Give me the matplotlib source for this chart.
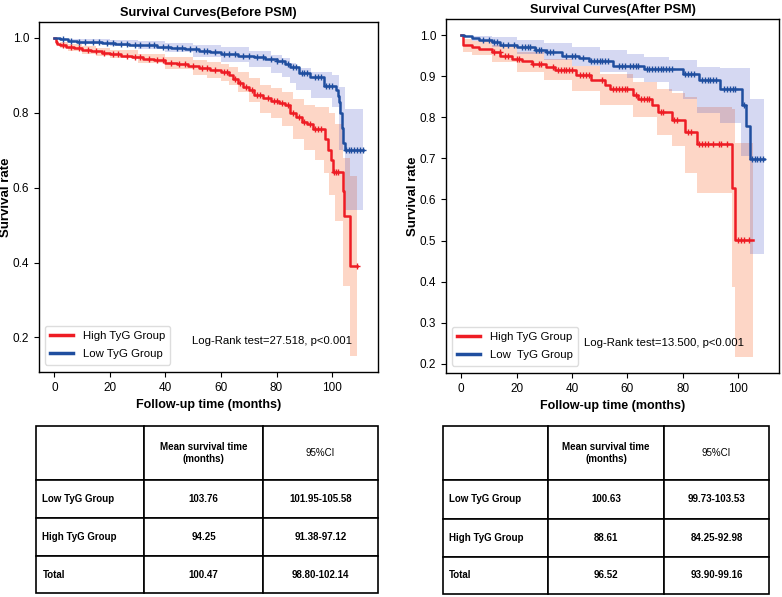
import numpy as np
import matplotlib
matplotlib.use("Agg")
import matplotlib.pyplot as plt

plt.rcParams['font.family'] = ['Liberation Sans', 'DejaVu Sans']

# ---------------- data: Before PSM ----------------
b_high_t = [0, 0.5, 1, 2, 4, 7, 10, 13, 17, 20, 24, 28, 32, 36, 40, 44, 48, 52, 56, 60, 63, 64.5, 66, 68, 70,
            72, 75, 78, 81, 83, 85, 87, 89, 91, 93, 97.5, 98.5, 99.5, 100.4, 103.8, 104.3, 106.4, 108.9]
b_high_s = [1.0, 0.99, 0.985, 0.98, 0.976, 0.972, 0.968, 0.964, 0.96, 0.956, 0.952, 0.948, 0.944, 0.94, 0.934,
            0.93, 0.925, 0.92, 0.914, 0.908, 0.902, 0.89, 0.88, 0.87, 0.86, 0.848, 0.84, 0.832, 0.826, 0.82, 0.80,
            0.79, 0.775, 0.77, 0.757, 0.73, 0.70, 0.674, 0.643, 0.59, 0.525, 0.392, 0.392]
b_high_ci_t = [0, 2, 5, 10, 15, 20, 30, 40, 50, 55, 60, 63, 66, 70, 74, 78, 82, 86, 90, 94, 97, 99, 101,
               103.8, 106.4, 108.9]
b_high_lo = [1.0, 0.972, 0.966, 0.958, 0.951, 0.945, 0.932, 0.918, 0.900, 0.893, 0.885, 0.875, 0.855, 0.83,
             0.80, 0.785, 0.765, 0.73, 0.70, 0.675, 0.64, 0.58, 0.51, 0.337, 0.15, 0.15]
b_high_up = [1.0, 0.988, 0.985, 0.978, 0.972, 0.967, 0.958, 0.948, 0.94, 0.935, 0.93, 0.921, 0.91, 0.893,
             0.875, 0.865, 0.855, 0.838, 0.82, 0.815, 0.815, 0.80, 0.77, 0.68, 0.63, 0.63]
b_high_cens = [3, 6, 9, 12, 15, 18, 21, 23, 26, 29, 31, 34, 37, 39, 42, 45, 47, 50, 53, 55, 58, 61, 62, 65,
               67, 69, 71, 73, 74, 77, 79, 80, 82, 84, 86, 88, 90, 92, 94, 95, 96, 100.8, 101.5, 102.3, 108.9]

b_low_t = [0, 2, 5, 8, 12, 17, 22, 27, 32, 37, 42, 47, 52, 56, 60, 66, 72, 76, 80, 83, 85, 88, 92, 97,
           101.5, 102, 102.5, 103, 103.5, 104, 104.5, 111]
b_low_s = [1.0, 0.996, 0.993, 0.990, 0.988, 0.986, 0.984, 0.982, 0.980, 0.977, 0.974, 0.970, 0.966, 0.962,
           0.957, 0.953, 0.949, 0.944, 0.938, 0.930, 0.921, 0.905, 0.895, 0.872, 0.86, 0.845, 0.83, 0.80,
           0.76, 0.72, 0.70, 0.70]
b_low_ci_t = [0, 5, 10, 20, 30, 40, 50, 60, 70, 78, 82, 85, 87, 92.5, 100, 102.5, 104.5, 111]
b_low_lo = [1.0, 0.990, 0.985, 0.978, 0.971, 0.962, 0.948, 0.935, 0.922, 0.905, 0.895, 0.88, 0.862, 0.84,
            0.815, 0.70, 0.54, 0.54]
b_low_up = [1.0, 0.998, 0.996, 0.994, 0.991, 0.987, 0.982, 0.975, 0.965, 0.955, 0.945, 0.934, 0.92, 0.91,
            0.90, 0.87, 0.81, 0.81]
b_low_cens = [3, 6, 9, 11, 14, 16, 19, 21, 24, 26, 29, 31, 34, 36, 39, 41, 44, 46, 49, 51, 54, 55, 58, 61,
              63, 65, 68, 70, 73, 75, 78, 80, 82, 84, 86, 87, 89, 90, 91, 94, 95, 96, 98, 99, 100,
              105, 106, 107, 108, 109, 110, 111]

# ---------------- data: After PSM ----------------
a_high_t = [0, 0.6, 4, 6.4, 11.2, 14.2, 18.4, 22, 25.7, 30.5, 34, 41.3, 47, 52, 53.8, 62, 64, 68.8, 71.2,
            76, 81, 85, 97.7, 98.9, 105.4]
a_high_s = [1.0, 0.976, 0.97, 0.967, 0.958, 0.95, 0.942, 0.938, 0.93, 0.922, 0.914, 0.902, 0.89, 0.878,
            0.869, 0.854, 0.845, 0.829, 0.812, 0.793, 0.764, 0.735, 0.629, 0.502, 0.502]
a_high_ci_t = [0, 0.6, 4, 11, 20, 30, 40, 50, 62, 70.8, 76, 81, 85, 97.7, 98.9, 105.4]
a_high_lo = [1.0, 0.96, 0.952, 0.935, 0.91, 0.89, 0.865, 0.83, 0.80, 0.756, 0.73, 0.664, 0.615, 0.388,
             0.217, 0.217]
a_high_up = [1.0, 0.99, 0.985, 0.975, 0.96, 0.942, 0.925, 0.905, 0.885, 0.869, 0.86, 0.85, 0.824, 0.82,
             0.737, 0.737]
a_high_cens = [12, 14, 16, 17, 20, 21, 26, 28, 29, 33, 35, 36, 37, 38, 39, 40, 43, 44, 45, 46, 51, 55, 56,
               57, 58, 59, 60, 63, 65, 66, 67, 68, 72, 73, 77, 78, 82, 83, 86, 87, 88, 89, 91, 93, 94, 96,
               100, 101, 102, 104]

a_low_t = [0, 1, 4, 6.4, 11, 14, 20, 26.5, 30.5, 36.3, 42.5, 46, 55, 66, 80, 86, 93.6, 101.3, 103, 104.2,
           109.3]
a_low_s = [1.0, 0.998, 0.993, 0.989, 0.983, 0.975, 0.971, 0.964, 0.958, 0.95, 0.944, 0.938, 0.926, 0.917,
           0.906, 0.891, 0.869, 0.83, 0.78, 0.698, 0.698]
a_low_ci_t = [0, 4, 11, 20, 30, 40, 50, 60, 66, 75, 80, 85, 93.6, 101, 104.2, 109.3]
a_low_lo = [1.0, 0.985, 0.97, 0.955, 0.94, 0.925, 0.91, 0.895, 0.885, 0.865, 0.845, 0.81, 0.787, 0.705,
            0.467, 0.467]
a_low_up = [1.0, 0.999, 0.995, 0.988, 0.981, 0.972, 0.963, 0.955, 0.946, 0.94, 0.939, 0.922, 0.92, 0.92,
            0.845, 0.845]
a_low_cens = [8, 10, 12, 13, 15, 17, 19, 22, 23, 24, 25, 27, 28, 29, 31, 32, 33, 38, 40, 41, 44, 47, 48,
              49, 50, 51, 52, 53, 57, 58, 59, 61, 62, 63, 64, 67, 68, 69, 70, 71, 72, 73, 74, 75, 76, 81,
              82, 83, 84, 87, 88, 89, 90, 91, 92, 95, 96, 97, 98, 99, 102, 105, 106, 107, 108, 109]

titles = ["Survival Curves(Before PSM)", "Survival Curves(After PSM)"]
logrank = ["Log-Rank test=27.518, p<0.001", "Log-Rank test=13.500, p<0.001"]
legend_labels = [["High TyG Group", "Low TyG Group"], ["High TyG Group", "Low  TyG Group"]]

# ---------------- table data ----------------
col_header = ["", "Mean survival time\n(months)", "95%CI"]
row_labels = ["Low TyG Group", "High TyG Group", "Total"]
before_mean = ["103.76", "94.25", "100.47"]
before_ci = ["101.95-105.58", "91.38-97.12", "98.80-102.14"]
after_mean = ["100.63", "88.61", "96.52"]
after_ci = ["99.73-103.53", "84.25-92.98", "93.90-99.16"]

RED = "#ee1c24"
BLUE = "#1f4e9f"

fig = plt.figure(figsize=(7.82, 5.97), dpi=100)
W, H = 782, 597


def px_axes(x0, y0, x1, y1):
    return fig.add_axes([x0 / W, 1 - y1 / H, (x1 - x0) / W, (y1 - y0) / H])


def step_val(t, s, c):
    t = np.asarray(t); s = np.asarray(s)
    idx = np.searchsorted(t, c, side='right') - 1
    return s[np.clip(idx, 0, len(s) - 1)]


def km(ax, t, s, ci_t, lo, up, cens, color, fill, alpha, label):
    ax.fill_between(ci_t, lo, up, step='post', color=fill, alpha=alpha, lw=0)
    ax.plot(t, s, drawstyle='steps-post', color=color, lw=1.8, label=label)
    c = np.asarray(cens, dtype=float)
    ax.plot(c, step_val(t, s, c), ls='none', marker='+', ms=5, mew=1.0, color=color)


axes = [px_axes(39, 22, 378, 372), px_axes(446, 19, 779, 373)]
datasets = [
    (b_high_t, b_high_s, b_high_ci_t, b_high_lo, b_high_up, b_high_cens,
     b_low_t, b_low_s, b_low_ci_t, b_low_lo, b_low_up, b_low_cens),
    (a_high_t, a_high_s, a_high_ci_t, a_high_lo, a_high_up, a_high_cens,
     a_low_t, a_low_s, a_low_ci_t, a_low_lo, a_low_up, a_low_cens),
]
text_pos = [(49.5, 0.191), (44.4, 0.251)]

for i, ax in enumerate(axes):
    d = datasets[i]
    km(ax, *d[0:6], RED, "#fa8050", 0.32, legend_labels[i][0])
    km(ax, *d[6:12], BLUE, "#3040c0", 0.2, legend_labels[i][1])
    ax.set_title(titles[i], fontsize=9.2, fontweight='bold', pad=4)
    ax.set_xlabel("Follow-up time (months)", fontsize=9.0, fontweight='bold', labelpad=4)
    ax.set_ylabel("Survival rate", fontsize=9.5, fontweight='bold')
    ax.tick_params(labelsize=8.5, length=3.5)
    ax.set_xticks([0, 20, 40, 60, 80, 100])
    leg = ax.legend(loc='lower left', fontsize=8.2, handlelength=2.0, handletextpad=0.9,
                    borderpad=0.45, labelspacing=0.75, framealpha=1, edgecolor="#dddddd",
                    fancybox=True, bbox_to_anchor=(0.0, 0.005))
    for h in leg.get_lines():
        h.set_linewidth(2.5)
    ax.text(text_pos[i][0], text_pos[i][1], logrank[i], fontsize=8.2, va='center', ha='left')
    for sp in ax.spines.values():
        sp.set_linewidth(1.0)

axes[0].set_yticks([0.2, 0.4, 0.6, 0.8, 1.0])
axes[1].set_yticks([0.2, 0.3, 0.4, 0.5, 0.6, 0.7, 0.8, 0.9, 1.0])
axes[0].yaxis.set_label_coords(-0.08, 0.5)
axes[1].yaxis.set_label_coords(-0.081, 0.5)


def make_table(x0, y0, x1, y1, col_w, means, cis):
    tax = px_axes(x0, y0, x1, y1)
    tax.axis('off')
    cells = [col_header] + [[row_labels[k], means[k], cis[k]] for k in range(3)]
    tb = tax.table(cellText=cells, colWidths=col_w, bbox=[0, 0, 1, 1], cellLoc='center')
    tb.auto_set_font_size(False)
    heights = [54, 38, 38, 37]
    for (r, c), cell in tb.get_celld().items():
        cell.set_height(heights[r])
        cell.set_linewidth(1.2)
        txt = cell.get_text()
        txt.set_fontsize(7.0)
        if not (r == 0 and c == 2):
            txt.set_fontweight('bold')
        if c == 0:
            txt.set_horizontalalignment('left')
            cell.PAD = 0.06
    return tb


make_table(36, 426, 378, 593, [0.316, 0.348, 0.336], before_mean, before_ci)
make_table(443, 426, 769, 594, [0.322, 0.356, 0.322], after_mean, after_ci)

fig.savefig("out.png", dpi=100)
